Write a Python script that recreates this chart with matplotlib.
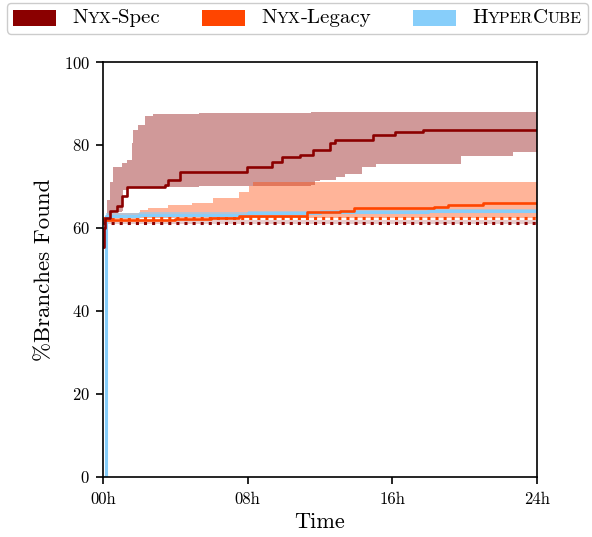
import matplotlib
matplotlib.use("Agg")
import matplotlib.pyplot as plt
from matplotlib.offsetbox import AnchoredOffsetbox, HPacker, TextArea, DrawingArea
from matplotlib.patches import Rectangle

plt.rcParams['font.family'] = ['cmr10', 'DejaVu Serif']
plt.rcParams['axes.formatter.use_mathtext'] = True

# Nyx-Spec
spec_t = [0, 0.05, 0.1, 0.39, 0.76, 1.03, 1.31, 3.43, 3.6, 4.26, 7.95, 9.33, 9.9,
          10.9, 11.63, 12.55, 12.83, 14.95, 16.15, 17.7, 24]
spec_v = [55.5, 60.0, 62.4, 64.0, 65.2, 67.6, 69.9, 70.4, 71.6, 73.6, 74.8, 76.0, 77.0,
          77.6, 78.7, 80.4, 81.1, 82.5, 83.1, 83.7, 83.7]
spec_band_t = [0, 0.1, 0.2, 0.4, 0.57, 1.03, 1.1, 1.31, 1.59, 1.68, 1.95, 2.32, 2.78, 5.3,
               11.5, 11.7, 12.0, 12.9, 13.4, 14.3, 15.1, 19.8, 22.7, 24]
spec_low = [55.0, 61.5, 62.5, 63.5, 63.8, 64.0, 69.2, 69.6, 69.6, 69.6, 69.7, 69.8, 69.9, 70.2,
            70.4, 71.2, 71.6, 72.2, 73.1, 74.8, 75.4, 77.4, 78.2, 78.2]
spec_high = [57.0, 63.0, 66.8, 71.0, 74.8, 75.6, 75.6, 76.4, 80.4, 83.6, 84.9, 86.9, 87.4, 87.6,
             87.9, 87.9, 87.9, 87.9, 87.9, 87.9, 87.9, 87.9, 87.9, 87.9]
spec_base = 61.2

# Nyx-Legacy
legacy_t = [0, 3.0, 4.0, 6.0, 7.5, 8.1, 11.27, 13.1, 13.9, 18.3, 19.1, 21.0, 24]
legacy_v = [61.8, 62.0, 62.2, 62.5, 62.8, 63.0, 63.8, 64.2, 64.7, 65.1, 65.6, 65.9, 65.9]
legacy_band_t = [0, 0.3, 2.05, 2.5, 3.6, 4.9, 6.1, 7.5, 8.1, 8.3, 24]
legacy_low = [61.5, 62.2, 62.3, 62.3, 62.3, 62.3, 62.3, 62.3, 62.3, 62.3, 62.3]
legacy_high = [62.5, 63.5, 64.4, 64.8, 65.6, 66.0, 67.2, 68.6, 70.0, 71.0, 71.0]
legacy_base = 62.3

# HyperCube
hyper_t = [0, 0.15, 2.0, 8.0, 12.0, 18.0, 24]
hyper_v = [0, 62.8, 63.2, 63.5, 63.8, 64.1, 64.1]
hyper_band_t = [0.15, 2.0, 8.0, 12.0, 18.0, 24]
hyper_low = [62.5, 62.9, 63.1, 63.3, 63.5, 63.5]
hyper_high = [63.6, 63.8, 64.0, 64.3, 64.5, 64.5]

xticks = [0, 8, 16, 24]
xticklabels = ['00h', '08h', '16h', '24h']
yticks = [0, 20, 40, 60, 80, 100]

c_spec = '#8B0000'
c_legacy = '#FF4500'
c_hyper = '#87CEFA'

fig = plt.figure(figsize=(5.92, 5.37), dpi=100)
ax = fig.add_axes([0.174, 0.112, 0.733, 0.7725])

# bands
ax.fill_between(spec_band_t, spec_low, spec_high, step='post', color=c_spec, alpha=0.4, lw=0)
ax.fill_between(legacy_band_t, legacy_low, legacy_high, step='post', color=c_legacy, alpha=0.4, lw=0)
ax.fill_between(hyper_band_t, hyper_low, hyper_high, step='post', color=c_hyper, alpha=0.6, lw=0)
ax.fill_between([0, 24], [spec_base - 0.25] * 2, [spec_base + 0.65] * 2, color=c_spec, alpha=0.2, lw=0)

# baselines
ax.plot([0, 24], [legacy_base] * 2, color=c_legacy, ls=':', lw=2.2)
ax.plot([0, 24], [spec_base] * 2, color=c_spec, ls=':', lw=2.2)

# medians
ax.step(hyper_t, hyper_v, where='post', color=c_hyper, lw=2.2)
ax.step(legacy_t, legacy_v, where='post', color=c_legacy, lw=1.9)
ax.step(spec_t, spec_v, where='post', color=c_spec, lw=1.9)

ax.set_xlim(0, 24)
ax.set_ylim(0, 100)
ax.set_xticks(xticks)
ax.set_xticklabels(xticklabels)
ax.set_yticks(yticks)
ax.tick_params(labelsize=12, length=4.8, width=1.2, direction='out')
ax.tick_params(axis='y', pad=4.5)
ax.tick_params(axis='x', pad=6)
for s in ax.spines.values():
    s.set_linewidth(1.2)
ax.set_xlabel('Time', fontsize=16, labelpad=4)
ax.set_ylabel('%Branches Found', fontsize=16.5, labelpad=7)


# legend with small caps made from two font sizes
def sc_text(parts, big=15, small=11.5):
    areas = [TextArea(t, textprops=dict(fontsize=big if b else small, family='cmr10'))
             for t, b in parts]
    return HPacker(children=areas, align='baseline', pad=0, sep=0)


def entry(color, parts):
    da = DrawingArea(31, 11.5, 0, 0)
    da.add_artist(Rectangle((0, 0), 31, 11.5, fc=color, ec='none'))
    return HPacker(children=[da, sc_text(parts)], align='center', pad=0, sep=11.5)


entries = [
    entry(c_spec, [('N', 1), ('YX', 0), ('-Spec', 1)]),
    entry(c_legacy, [('N', 1), ('YX', 0), ('-Legacy', 1)]),
    entry(c_hyper, [('H', 1), ('YPER', 0), ('C', 1), ('UBE', 0)]),
]
box = HPacker(children=entries, align='center', pad=0, sep=30)
leg = AnchoredOffsetbox(loc='upper left', child=box, pad=0.45, borderpad=0,
                        frameon=True, prop=dict(size=10),
                        bbox_to_anchor=(7 / 592, 1 - 3 / 537),
                        bbox_transform=fig.transFigure)
leg.patch.set_boxstyle('round,pad=0,rounding_size=0.3')
leg.patch.set_edgecolor('0.8')
leg.patch.set_linewidth(1.0)
fig.add_artist(leg)

fig.savefig('out.png', dpi=100)
